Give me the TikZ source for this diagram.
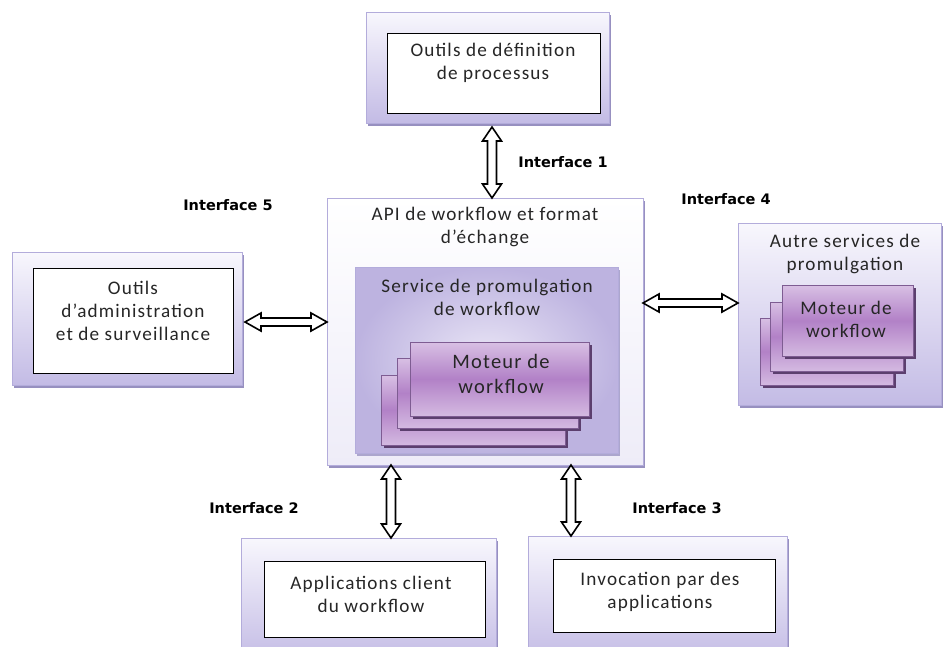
\documentclass[tikz,border=0pt]{standalone}
\usepackage{fontspec}
\setmainfont{Carlito}[LetterSpace=6]
\newfontfamily\lblfont{DejaVu Sans}
\usetikzlibrary{calc,shadows}
\definecolor{lavB}{HTML}{B3ACDB}
\definecolor{lavTop}{HTML}{F8F7FD}
\definecolor{lavBot}{HTML}{C3BBE5}
\definecolor{shad}{HTML}{9790C0}
\definecolor{apiFill}{HTML}{EEECF8}
\definecolor{svcIn}{HTML}{EAE6F6}
\definecolor{svcOut}{HTML}{BDB3E0}
\definecolor{motTop}{HTML}{D8C0E4}
\definecolor{motMid}{HTML}{B281C7}
\definecolor{motBor}{HTML}{7E5C92}
\definecolor{motShad}{HTML}{5C3F6E}
\tikzset{
  every node/.style={inner sep=0pt, outer sep=0pt},
  outerbox/.style={draw=lavB, line width=0.8pt, top color=lavTop, bottom color=lavBot,
    drop shadow={shadow xshift=2pt, shadow yshift=-3pt, fill=shad, opacity=1}},
  apibox/.style={draw=lavB, line width=0.8pt, top color=white, bottom color=apiFill,
    drop shadow={shadow xshift=2pt, shadow yshift=-3pt, fill=shad, opacity=1}},
  svcbox/.style={draw=lavB, line width=0.8pt, inner color=svcIn, outer color=svcOut,
    drop shadow={shadow xshift=2pt, shadow yshift=-3pt, fill=shad!80, opacity=1}},
  innerbox/.style={draw=black, line width=1pt, fill=white},
  motbox/.style={draw=motBor, line width=0.8pt, top color=motTop, bottom color=motTop!90!motMid, middle color=motMid,
    drop shadow={shadow xshift=3pt, shadow yshift=-3pt, fill=motShad, opacity=1}},
  txt/.style={font=\fontsize{19.2}{23}\selectfont, align=center, text=black!85},
  mtxt/.style={font=\fontsize{20.5}{25}\selectfont, align=center, text=black!85},
  lbl/.style={font=\lblfont\bfseries\fontsize{14.5}{17}\selectfont, text=black},
  dbl/.style={draw=black, line width=1.6pt, fill=white, line join=miter},
}
% box by corners in pixel coordinates: style, name, x1, y1, x2, y2
\newcommand\bx[6]{\node[#1, minimum width={(#5-#3)*1pt}, minimum height={(#6-#4)*1pt}] (#2) at ({(#3+#5)/2},{(#4+#6)/2}) {};}
% vertical double arrow from upper point #1 to lower point #2
\newcommand\varrow[2]{\draw[dbl] let \p1=(#1), \p2=(#2) in
 (\x1,\y1) -- (\x1+9.5pt,\y1-14pt) -- (\x1+4.5pt,\y1-14pt) -- (\x1+4.5pt,\y2+14pt) -- (\x1+9.5pt,\y2+14pt)
 -- (\x1,\y2) -- (\x1-9.5pt,\y2+14pt) -- (\x1-4.5pt,\y2+14pt) -- (\x1-4.5pt,\y1-14pt) -- (\x1-9.5pt,\y1-14pt) -- cycle;}
% horizontal double arrow from left point #1 to right point #2
\newcommand\harrow[2]{\draw[dbl] let \p1=(#1), \p2=(#2) in
 (\x1,\y1) -- (\x1+16pt,\y1+9pt) -- (\x1+16pt,\y1+4pt) -- (\x2-16pt,\y1+4pt) -- (\x2-16pt,\y1+9pt)
 -- (\x2,\y1) -- (\x2-16pt,\y1-9pt) -- (\x2-16pt,\y1-4pt) -- (\x1+16pt,\y1-4pt) -- (\x1+16pt,\y1-9pt) -- cycle;}
\begin{document}
\begin{tikzpicture}[x=1pt, y=-1pt]
\clip (0,0) rectangle (943,646);
\fill[white] (0,0) rectangle (943,646);
% top
\bx{outerbox}{T}{366}{12}{609}{123}
\bx{innerbox}{Ti}{387}{33}{600}{113}
\node[txt] (Tt) at (493,63) {Outils de définition\\de processus};
% left
\bx{outerbox}{L}{12}{252}{242}{385}
\bx{innerbox}{Li}{33}{268}{233}{373}
\node[txt] (Lt) at (133,311) {Outils\\d’administration\\et de surveillance};
% API
\bx{apibox}{A}{327}{198}{643}{465}
\node[txt] (At) at (485,227) {API de workflow et format\\d’échange};
\bx{svcbox}{S}{355}{267}{618}{453}
\node[txt] (St) at (487,297) {Service de promulgation\\de workflow};
\bx{motbox}{M3}{381}{375}{565}{445}
\bx{motbox}{M2}{397}{358}{578}{428}
\bx{motbox}{M1}{410}{342}{589}{416}
\node[mtxt] (Mt) at (501,374) {Moteur de\\workflow};
% right
\bx{outerbox}{R}{738}{223}{941}{405}
\node[txt] (Rt) at (845,254) {Autre services de\\promulgation};
\bx{motbox}{RM3}{760}{318}{893}{385}
\bx{motbox}{RM2}{770}{302}{903}{371}
\bx{motbox}{RM1}{782}{285}{913}{356}
\node[txt] (RMt) at (846,319) {Moteur de\\workflow};
% bottom left
\bx{outerbox}{BL}{241}{538}{496}{662}
\bx{innerbox}{BLi}{264}{561}{485}{637}
\node[txt] (BLt) at (371,594) {Applications client\\du workflow};
% bottom right
\bx{outerbox}{BR}{528}{536}{787}{662}
\bx{innerbox}{BRi}{553}{559}{775}{632}
\node[txt] (BRt) at (660,592) {Invocation par des\\applications};
% interface labels
\node[lbl] (I1) at (563,162) {Interface 1};
\node[lbl] (I5) at (228,205) {Interface 5};
\node[lbl] (I4) at (726,199) {Interface 4};
\node[lbl] (I2) at (254,508) {Interface 2};
\node[lbl] (I3) at (677,508) {Interface 3};
% arrow lines
\coordinate (x1) at (492,0);
\coordinate (x2) at (391,0);
\coordinate (x3) at (571,0);
\coordinate (y5) at (0,322);
\coordinate (y4) at (0,303);
\varrow{$(T.south -| x1)+(0,-4pt)$}{A.north -| x1}
\varrow{A.south -| x2}{BL.north -| x2}
\varrow{A.south -| x3}{BR.north -| x3}
\harrow{$(L.east |- y5)+(3pt,0)$}{A.west |- y5}
\harrow{A.east |- y4}{R.west |- y4}
\end{tikzpicture}
\end{document}
